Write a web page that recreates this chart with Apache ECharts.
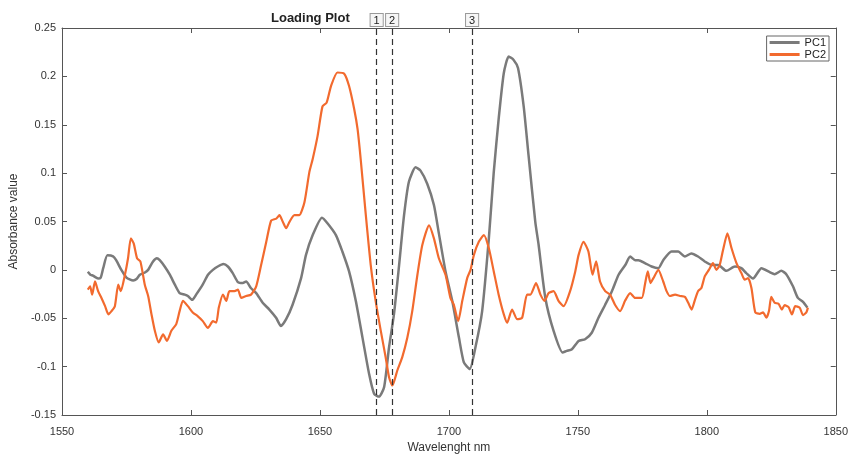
<!DOCTYPE html>
<html lang="en">
<head>
    <meta charset="UTF-8">
    <title>Loading Plot</title>
</head>
<style>
    html, body { margin: 0; padding: 0; background: #fff; }
    #main { width: 851px; height: 459px; }
</style>
<body>
<div id="main"></div>
<script type="text/javascript" src="https://cdn.jsdelivr.net/npm/echarts@6/dist/echarts.min.js"></script>
<script>
    // wavelengths (nm) and loadings
    var pc1X = [1560, 1561, 1562, 1564, 1565, 1566, 1567.6, 1569.8, 1571, 1573, 1575, 1577.6, 1578.9, 1580.2, 1582, 1583.4,
        1585.3, 1586.8, 1587.9, 1589.8, 1591.8, 1593.7, 1595.6, 1597.6, 1598.8, 1600.5, 1602, 1604.6, 1606.6, 1608.5,
        1610.4, 1612.6, 1614.3, 1616.2, 1618.2, 1620.1, 1621.4, 1623.3, 1625.3, 1627.8, 1630.4, 1633, 1634.9, 1636.9,
        1639.4, 1642.7, 1644.6, 1647.2, 1650.8, 1653, 1656.2, 1658.7, 1661.3, 1663.9, 1666.5, 1669.1, 1671, 1672.9,
        1674.9, 1676.8, 1678.7, 1680.7, 1682.6, 1684.5, 1687.1, 1689, 1691.6, 1694.2, 1696.1, 1698.7, 1701.3, 1703.9,
        1705.8, 1708.1, 1710.3, 1712.9, 1715.5, 1717.4, 1719.3, 1721.3, 1723.2, 1725.1, 1726.8, 1729, 1730.9, 1733.5,
        1734.8, 1737.4, 1740.6, 1744.1, 1745.7, 1747.7, 1750.3, 1752.8, 1755.4, 1758, 1760.6, 1763.2, 1765.8, 1768.4,
        1770.3, 1772.2, 1773.5, 1776, 1778.6, 1781.2, 1783.1, 1786.3, 1788.9, 1791.5, 1794, 1796.6, 1799.2, 1801.9,
        1804.4, 1807.6, 1810.9, 1813.4, 1815.3, 1817.9, 1821.2, 1824.4, 1826.3, 1828.9, 1830.8, 1833.4, 1835.3, 1837.3, 1839];
    var pc1Y = [-0.002, -0.005, -0.006, -0.009, -0.008, 0.002, 0.015, 0.014, 0.010, 0.0, -0.008, -0.011, -0.0095, -0.005, -0.003, 0,
        0.0087, 0.012, 0.010, 0.0035, -0.005, -0.015, -0.024, -0.0256, -0.027, -0.031, -0.0256, -0.015, -0.005, 0.0,
        0.0035, 0.006, 0.0035, -0.0033, -0.0126, -0.0136, -0.012, -0.019, -0.024, -0.034, -0.041, -0.0495, -0.058, -0.051,
        -0.036, -0.0085, 0.0155, 0.036, 0.054, 0.048, 0.036, 0.019, -0.0016, -0.032, -0.070, -0.108, -0.128, -0.131,
        -0.121, -0.080, -0.046, 0.005, 0.056, 0.091, 0.106, 0.1026, 0.089, 0.067, 0.038, -0.0016, -0.032, -0.070,
        -0.0956, -0.1025, -0.080, -0.0426, 0.0326, 0.101, 0.156, 0.2035, 0.2206, 0.217, 0.2087, 0.169, 0.118, 0.0497,
        0.0257, -0.029, -0.063, -0.0854, -0.0837, -0.082, -0.0734, -0.0717, -0.065, -0.0495, -0.036, -0.022, -0.005, 0.005,
        0.0138, 0.010, 0.010, 0.007, 0.0035, 0.0018, 0.010, 0.019, 0.019, 0.0138, 0.017, 0.0138, 0.0087, 0.005,
        0.005, -0.001, 0.0035, 0.0018, -0.0033, -0.009, 0.0018, -0.0023, -0.0044, -0.001, -0.0044, -0.017, -0.029, -0.033, -0.039];

    var pc2X = [1560, 1560.9, 1561.7, 1562.8, 1564, 1565.3, 1566.7, 1568, 1569.2, 1570.5, 1571.8, 1572.8, 1574.4, 1575.6, 1576.7,
        1577.8, 1579.1, 1580.4, 1582.1, 1583.4, 1584.7, 1586, 1587.5, 1589.2, 1590.7, 1592.4, 1594.3, 1595.6, 1596.9,
        1598.8, 1600.7, 1602.7, 1604.6, 1606.6, 1608.5, 1609.8, 1610.8, 1612.4, 1613.7, 1614.9, 1616.9, 1618.2, 1619.5,
        1621.4, 1623.3, 1625.3, 1627.2, 1629.2, 1631.1, 1633.1, 1634.3, 1635.6, 1636.9, 1638.2, 1640.1, 1642, 1644,
        1645.9, 1647.2, 1649.1, 1651, 1652.6, 1654.3, 1656.8, 1659.4, 1661.3, 1663.3, 1664.6, 1665.8, 1667.8, 1669.7,
        1671.6, 1673.6, 1675.5, 1676.8, 1678.1, 1680, 1681.9, 1683.9, 1685.8, 1687.8, 1689.7, 1692.3, 1694.2, 1696.1,
        1698.7, 1700.6, 1701.9, 1703.6, 1705.2, 1707.1, 1708.4, 1709.7, 1711.6, 1713.6, 1715.5, 1717.4, 1719.3, 1721.3,
        1722.6, 1724.5, 1726.5, 1728.4, 1730.3, 1731.6, 1733.8, 1735.5, 1737.1, 1738.7, 1740.6, 1742.5, 1744.5, 1747,
        1749, 1750.3, 1752.2, 1754.1, 1755.7, 1757.1, 1758.6, 1760.6, 1762.5, 1764.4, 1766.4, 1768.3, 1770.3, 1772.2,
        1774.8, 1776, 1777.1, 1778.2, 1779.3, 1781.2, 1783.1, 1784.4, 1785.7, 1787.7, 1789.6, 1791.5, 1792.8, 1794.1,
        1795.4, 1796.6, 1797.9, 1799.2, 1800.8, 1802.4, 1803.7, 1805, 1806.3, 1808, 1809.6, 1811.5, 1813.4, 1814.7,
        1816, 1817.3, 1818.8, 1820.5, 1821.8, 1823.1, 1824.1, 1825, 1826.3, 1827.8, 1829.1, 1830.2, 1831.7, 1833,
        1834.3, 1836, 1837.3, 1838.6, 1839.2];
    var pc2Y = [-0.0204, -0.017, -0.0256, -0.0119, -0.022, -0.029, -0.0375, -0.046, -0.0426, -0.0375, -0.0153, -0.022, -0.005, 0.012, 0.0326,
        0.0274, 0.012, 0.0087, -0.0153, -0.027, -0.046, -0.063, -0.075, -0.0666, -0.0734, -0.063, -0.056, -0.0426, -0.032,
        -0.0375, -0.044, -0.048, -0.053, -0.060, -0.053, -0.0546, -0.039, -0.0256, -0.032, -0.022, -0.022, -0.0204, -0.029,
        -0.027, -0.0256, -0.017, 0.005, 0.029, 0.051, 0.053, 0.0565, 0.0497, 0.043, 0.0497, 0.0565, 0.0565, 0.070,
        0.101, 0.1146, 0.1385, 0.169, 0.1728, 0.190, 0.204, 0.2028, 0.190, 0.166, 0.1454, 0.1146, 0.0565, 0.005,
        -0.032, -0.063, -0.0905, -0.111, -0.1195, -0.104, -0.0905, -0.070, -0.0426, -0.005, 0.0257, 0.046, 0.0326, 0.012,
        -0.005, -0.029, -0.036, -0.053, -0.032, -0.0085, 0.0, 0.0155, 0.029, 0.036, 0.0223, -0.0016, -0.0256, -0.046,
        -0.0546, -0.041, -0.051, -0.0495, -0.0256, -0.0256, -0.0136, -0.0256, -0.032, -0.024, -0.022, -0.032, -0.0375, -0.022,
        -0.0016, 0.0155, 0.029, 0.019, -0.005, 0.0087, -0.012, -0.022, -0.0256, -0.036, -0.0426, -0.032, -0.024, -0.029,
        -0.029, -0.0153, -0.0016, -0.0136, -0.0085, 0.0, -0.012, -0.022, -0.027, -0.0256, -0.027, -0.028, -0.034, -0.041,
        -0.031, -0.022, -0.0187, -0.0068, 0.0, 0.007, 0.0, 0.005, 0.0206, 0.0377, 0.0223, 0.007, -0.0033, -0.0102,
        -0.0085, -0.0187, -0.044, -0.0454, -0.044, -0.0495, -0.0426, -0.028, -0.034, -0.035, -0.041, -0.0365, -0.0385, -0.046,
        -0.0375, -0.039, -0.0467, -0.044, -0.039];

    // marked wavelengths (dashed lines)
    var markNames = ['1', '2', '3'];
    var markX = [1672, 1678, 1709];

    function zip(xs, ys) {
        var out = [];
        for (var i = 0; i < xs.length; i++) out.push([xs[i], ys[i]]);
        return out;
    }

    var axisColor = '#555';
    var fontFam = '"Liberation Sans", Arial, sans-serif';

    function xAx(pos, labels) {
        return {
            type: 'value', position: pos, min: 1550, max: 1850, interval: 50,
            axisLine: { onZero: false, lineStyle: { color: axisColor, width: 1 } },
            axisTick: { show: true, inside: true, length: 5, lineStyle: { color: axisColor } },
            axisLabel: {
                show: labels, color: '#333', fontSize: 11, fontFamily: fontFam, margin: 11,
                formatter: function (v) { return String(v); }
            },
            splitLine: { show: false },
            name: labels ? 'Wavelenght nm' : '', nameLocation: 'middle', nameGap: 27,
            nameTextStyle: { color: '#333', fontSize: 12, fontFamily: fontFam }
        };
    }
    function yAx(pos, labels) {
        return {
            type: 'value', position: pos, min: -0.15, max: 0.25, interval: 0.05,
            axisLine: { onZero: false, lineStyle: { color: axisColor, width: 1 } },
            axisTick: { show: true, inside: true, length: 5, lineStyle: { color: axisColor } },
            axisLabel: {
                show: labels, color: '#333', fontSize: 11, fontFamily: fontFam, margin: 6,
                formatter: function (v) { return String(+v.toFixed(2)); }
            },
            splitLine: { show: false },
            name: labels ? 'Absorbance value' : '', nameLocation: 'middle', nameGap: 38,
            nameTextStyle: { color: '#333', fontSize: 12, fontFamily: fontFam }
        };
    }

    var myChart = echarts.init(document.getElementById('main'));
    var markData = [];
    for (var i = 0; i < markX.length; i++) markData.push({ name: markNames[i], xAxis: markX[i] });

    var option = {
        animation: false,
        backgroundColor: '#fff',
        title: {
            text: 'Loading Plot', left: 266, top: 7,
            textStyle: { fontSize: 13, fontWeight: 'bold', color: '#222', fontFamily: fontFam }
        },
        legend: {
            right: 22, top: 36, orient: 'vertical',
            data: [{ name: 'PC1', icon: 'rect' }, { name: 'PC2', icon: 'rect' }],
            itemWidth: 30, itemHeight: 3, itemGap: 1,
            borderColor: '#666', borderWidth: 1, padding: [1, 3, 1, 3],
            textStyle: { color: '#222', fontSize: 11, fontFamily: fontFam }
        },
        grid: { left: 62, right: 13, top: 28, bottom: 41, containLabel: false },
        xAxis: [xAx('bottom', true), xAx('top', false)],
        yAxis: [yAx('left', true), yAx('right', false)],
        series: [
            {
                name: 'PC1', type: 'line', showSymbol: false, smooth: 0.2,
                data: zip(pc1X, pc1Y),
                lineStyle: { color: '#7a7a7a', width: 2.5 }, itemStyle: { color: '#7a7a7a' },
                markLine: {
                    silent: true, symbol: ['none', 'none'],
                    lineStyle: { type: [6, 4], color: '#333', width: 1.2 },
                    label: {
                        show: true, position: 'end', distance: 2,
                        formatter: '{b}', color: '#222', fontSize: 11, fontFamily: fontFam,
                        backgroundColor: '#f6f6f6', borderColor: '#999', borderWidth: 1, padding: [1, 3, 0, 3]
                    },
                    data: markData
                }
            },
            {
                name: 'PC2', type: 'line', showSymbol: false, smooth: 0.2,
                data: zip(pc2X, pc2Y),
                lineStyle: { color: '#f26a2e', width: 2.2 }, itemStyle: { color: '#f26a2e' }
            }
        ]
    };
    myChart.setOption(option);
</script>
</body>
</html>
